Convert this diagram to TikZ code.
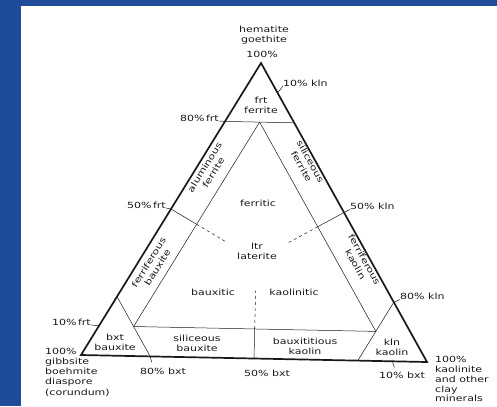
\documentclass[tikz,border=0pt]{standalone}
\usepackage{fontspec}
\setmainfont[FakeStretch=1.3]{DejaVu Sans}
\usetikzlibrary{calc}
\definecolor{frameblue}{RGB}{30,76,152}
\definecolor{ink}{RGB}{25,25,25}
\begin{document}
\begin{tikzpicture}[x=1bp,y=-1bp,
  txt/.style={font=\fontsize{8.5}{10.2}\selectfont, text=ink, align=center, inner sep=0pt},
  sideline/.style={draw=ink, line width=1.7bp, line join=miter},
  thinline/.style={draw=ink, line width=0.5bp},
  dashline/.style={draw=ink, line width=0.5bp, dash pattern=on 3bp off 3bp},
  lead/.style={draw=ink, line width=0.5bp}]
\useasboundingbox (0,0) rectangle (497,406);
\fill[frameblue] (0,0) rectangle (497,406);
\fill[white] (21,6) rectangle (497,406);
% vertices
\coordinate (Fe) at (261,63);
\coordinate (Bx) at (81,355);
\coordinate (Kl) at (427,362);
% side points
\coordinate (f80) at (barycentric cs:Fe=0.8,Bx=0.2);
\coordinate (f80r) at (barycentric cs:Fe=0.8,Kl=0.2);
\coordinate (f50) at (barycentric cs:Fe=0.5,Bx=0.5);
\coordinate (f20) at (barycentric cs:Fe=0.2,Bx=0.8);
\coordinate (f10) at (barycentric cs:Fe=0.1,Bx=0.9);
\coordinate (k10) at (barycentric cs:Fe=0.9,Kl=0.1);
\coordinate (k50) at (barycentric cs:Fe=0.5,Kl=0.5);
\coordinate (k80) at (barycentric cs:Fe=0.2,Kl=0.8);
\coordinate (b80) at (barycentric cs:Bx=0.8,Kl=0.2);
\coordinate (b50) at (barycentric cs:Bx=0.5,Kl=0.5);
\coordinate (b20) at (barycentric cs:Bx=0.2,Kl=0.8);
\coordinate (b10) at (barycentric cs:Bx=0.1,Kl=0.9);
% inner points
\coordinate (top) at (barycentric cs:Fe=0.8,Bx=0.1,Kl=0.1);
\coordinate (lb) at (barycentric cs:Fe=0.1,Bx=0.8,Kl=0.1);
\coordinate (rb) at (barycentric cs:Fe=0.1,Bx=0.1,Kl=0.8);
\coordinate (mb) at (barycentric cs:Fe=0.1,Bx=0.45,Kl=0.45);
\coordinate (mbd) at (barycentric cs:Fe=0.23,Bx=0.385,Kl=0.385);
\coordinate (ml) at (barycentric cs:Fe=0.45,Bx=0.45,Kl=0.1);
\coordinate (mld) at (barycentric cs:Fe=0.39,Bx=0.39,Kl=0.22);
\coordinate (mr) at (barycentric cs:Fe=0.45,Bx=0.1,Kl=0.45);
\coordinate (mrd) at (barycentric cs:Fe=0.39,Bx=0.22,Kl=0.39);
% inner lines
\draw[thinline] (f80) -- (f80r);
\draw[thinline] (top) -- (lb);
\draw[thinline] (top) -- (rb);
\draw[thinline] (lb) -- (rb);
\draw[thinline] (f20) -- (b80);
\draw[thinline] (k80) -- (b20);
\draw[thinline] (b50) -- (mb);
\draw[dashline] (mb) -- (mbd);
\draw[thinline] (f50) -- (ml);
\draw[dashline] (ml) -- (mld);
\draw[thinline] (k50) -- (mr);
\draw[dashline] (mr) -- (mrd);
% outer triangle
\draw[sideline] (Fe) -- (Bx) -- (Kl) -- cycle;
% region labels
\node[txt] (hem) at (264,35) {hematite\\goethite};
\node[txt] (p100) at (262,54) {100\%};
\node[txt] (ferrite) at (261,105.5) {frt\\ferrite};
\node[txt,rotate=58.4] (alfe) at (209,170) {aluminous\\ferrite};
\node[txt,rotate=-61] (sife) at (306,164) {siliceous\\ferrite};
\node[txt] (ferritic) at (258,203) {ferritic};
\node[txt] (ltr) at (257,251) {ltr\\laterite};
\node[txt,rotate=58.4] (fbx) at (153,265) {ferriferous\\bauxite};
\node[txt,rotate=-61] (fkl) at (360,262) {ferriferous\\kaolin};
\node[txt] (bauxitic) at (213,292) {bauxitic};
\node[txt] (kaolinitic) at (294,292) {kaolinitic};
\node[txt] (bxt) at (115,342) {bxt\\bauxite};
\node[txt] (sibx) at (197,343) {siliceous\\bauxite};
\node[txt] (bxkl) at (305,346) {bauxititious\\kaolin};
\node[txt] (kln) at (392,347) {kln\\kaolin};
\node[txt,align=left,anchor=north west] (gib) at (45,348) {100\%\\gibbsite\\boehmite\\diaspore\\(corundum)};
\node[txt,align=left,anchor=north west,font=\fontsize{8.5}{9.9}\selectfont] (kao) at (435,356) {100\%\\kaolinite\\and other\\clay\\minerals};
% scale labels
\node[txt,anchor=base east] (L80f) at (219,121) {80\%\,frt};
\node[txt,anchor=base east] (L50f) at (166,208) {50\%\,frt};
\node[txt,anchor=base east] (L10f) at (91,325) {10\%\,frt};
\node[txt,anchor=base west] (L10k) at (283,86) {10\% kln};
\node[txt,anchor=base west] (L50k) at (350,209.5) {50\% kln};
\node[txt,anchor=base west] (L80k) at (400,299.5) {80\% kln};
\node[txt] (L80b) at (163,371) {80\% bxt};
\node[txt] (L50b) at (267,373) {50\% bxt};
\node[txt] (L10b) at (402,375) {10\% bxt};
\draw[lead] (f80) -- (L80f.base east);
\draw[lead] (f50) -- (L50f.base east);
\draw[lead] (f10) -- (L10f.base east);
\draw[lead] (k10) -- (L10k.base west);
\draw[lead] (k50) -- (L50k.base west);
\draw[lead] (k80) -- (L80k.base west);
\coordinate (b80t) at ($(b80)+(1.5,6)$);
\coordinate (b10t) at ($(b10)+(2,6)$);
\draw[lead] (b80) -- (b80t);
\draw[lead] (b10) -- (b10t);
\end{tikzpicture}
\end{document}
